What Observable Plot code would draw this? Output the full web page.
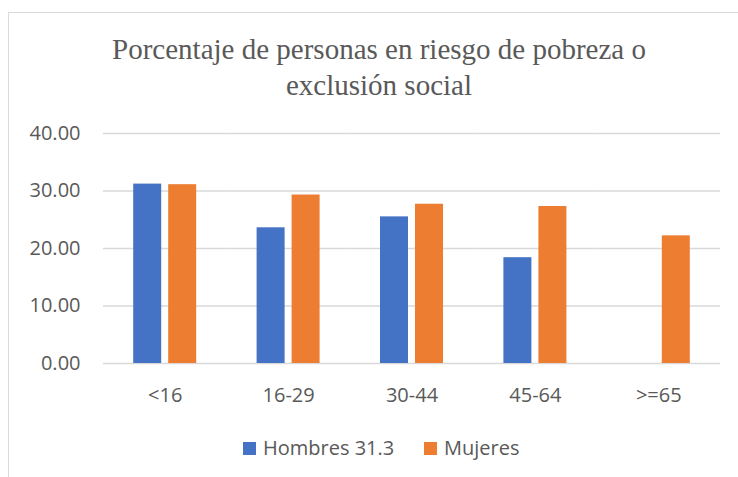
<!DOCTYPE html>
<html>
<head>
<meta charset="utf-8">
<script src="https://cdn.jsdelivr.net/npm/d3@7"></script>
<script src="https://cdn.jsdelivr.net/npm/@observablehq/plot@0.6"></script>
<style>
  html, body { margin: 0; padding: 0; background: #fff; overflow: hidden; }
  #wrap { position: relative; width: 738px; height: 477px; overflow: hidden; }
  #frame { position: absolute; left: 8px; top: 12px; width: 780px; height: 520px; border: 1px solid #d9d9d9; box-sizing: border-box; }
  #title { position: absolute; left: 0; top: 31px; width: 758px; text-align: center;
           font-family: "Liberation Serif", "Times New Roman", serif; font-size: 29px; line-height: 36px; color: #595959; }
  #chart { position: absolute; left: 0; top: 0; }
  .leg { position: absolute; top: 436px; display: flex; align-items: center;
         font-family: "Open Sans", sans-serif; font-size: 20px; color: #595959; line-height: 24px; }
  .sw { width: 13px; height: 13px; margin-right: 7px; }
</style>
</head>
<body>
<div id="wrap">
  <div id="frame"></div>
  <div id="title">Porcentaje de personas en riesgo de pobreza o<br>exclusión social</div>
  <div id="chart"></div>
  <div id="legend"></div>
</div>
<script>
const categories = ["<16", "16-29", "30-44", "45-64", ">=65"];
const seriesNames = ["Hombres", "Mujeres"];
const seriesLabels = ["Hombres 31.3", "Mujeres"];
const hombres = [31.2, 23.6, 25.5, 18.4, null];
const mujeres = [31.1, 29.3, 27.7, 27.3, 22.2];
const yTicks = [0, 10, 20, 30, 40];
const colors = ["#4472C4", "#ED7D31"];

const rows = [];
categories.forEach((c, i) => {
  if (hombres[i] != null) rows.push({cat: c, serie: seriesNames[0], value: hombres[i]});
  if (mujeres[i] != null) rows.push({cat: c, serie: seriesNames[1], value: mujeres[i]});
});

const plot = Plot.plot({
  width: 738,
  height: 420,
  marginTop: 133,
  marginBottom: 57,
  marginLeft: 103,
  marginRight: 18,
  style: {fontFamily: "Open Sans, sans-serif", fontSize: "20px", color: "#595959", background: "transparent"},
  fx: {domain: categories, padding: 0, label: null, axis: "bottom", tickSize: 0, tickPadding: 24.5, round: false},
  x: {domain: seriesNames, paddingInner: 0.2, paddingOuter: 0.863, axis: null, round: false},
  y: {domain: [0, 40], ticks: yTicks, tickFormat: d3.format(".2f"), tickSize: 0, tickPadding: 23, label: null},
  color: {domain: seriesNames, range: colors},
  marks: [
    Plot.ruleY(yTicks, {stroke: "#d9d9d9", strokeWidth: 1.5, strokeOpacity: 1}),
    Plot.barY(rows, {fx: "cat", x: "serie", y: "value", fill: "serie"})
  ]
});
document.getElementById("chart").appendChild(plot);

const legend = document.getElementById("legend");
const legLeft = [243, 424];
seriesLabels.forEach((lab, i) => {
  const item = document.createElement("div");
  item.className = "leg";
  item.style.left = legLeft[i] + "px";
  const sw = document.createElement("div");
  sw.className = "sw";
  sw.style.background = colors[i];
  const t = document.createElement("span");
  t.textContent = lab;
  item.appendChild(sw);
  item.appendChild(t);
  legend.appendChild(item);
});
</script>
</body>
</html>
